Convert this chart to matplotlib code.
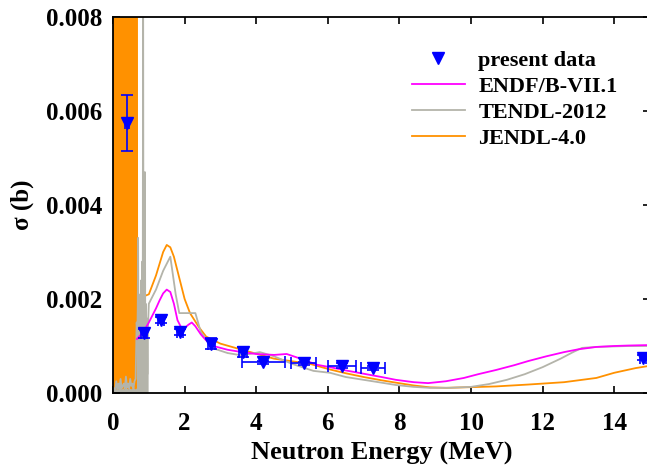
import numpy as np
import matplotlib
matplotlib.use("Agg")
import matplotlib.pyplot as plt
from matplotlib.lines import Line2D

plt.rcParams['font.family'] = ['Liberation Serif', 'DejaVu Serif']
plt.rcParams['font.weight'] = 'bold'

# present data (MeV, barn)
exp_e = [0.39, 0.87, 1.34, 1.87, 2.74, 3.63, 4.2, 5.33, 6.4, 7.27, 14.8]
exp_xs = [0.00575, 0.00127, 0.00155, 0.0013, 0.00105, 0.00087, 0.00065, 0.00063, 0.00058, 0.00053, 0.00075]
exp_dxs = [0.0006, 0.0001, 0.00007, 0.00007, 0.00012, 0.0001, 0.00004, 0.00004, 0.00005, 0.00004, 0.00005]
exp_de = [0.05, 0.08, 0.08, 0.08, 0.1, 0.1, 0.6, 0.35, 0.4, 0.33, 0.08]

# ENDF/B-VII.1
endf_e = [0.67, 0.85, 1.0, 1.2, 1.3, 1.4, 1.5, 1.6, 1.7, 1.8, 1.9, 2.0, 2.1, 2.2, 2.3, 2.45, 2.6,
          2.8, 3.2, 3.6, 4.0, 4.5, 4.85, 5.2, 5.7, 6.06, 6.5, 7.0, 7.5, 7.9, 8.4, 8.8, 9.3, 9.8,
          10.2, 10.7, 11.2, 11.6, 12.1, 12.6, 13.0, 13.5, 14.0, 14.4, 15.0]
endf_xs = [0.00115, 0.0013, 0.0015, 0.0018, 0.00197, 0.00212, 0.0022, 0.00215, 0.0019, 0.00155,
           0.0014, 0.00138, 0.00145, 0.0015, 0.00142, 0.00125, 0.00112, 0.001, 0.00092, 0.00087,
           0.00083, 0.00081, 0.00083, 0.00074, 0.0006, 0.00055, 0.00048, 0.00041, 0.00034,
           0.00028, 0.00023, 0.00021, 0.00025, 0.00032, 0.0004, 0.00049, 0.00059, 0.00068,
           0.00078, 0.00087, 0.00093, 0.00098, 0.001, 0.00101, 0.00102]

# TENDL-2012, resonance part and smooth part
tendl_e = [0.0, 0.03, 0.06, 0.09, 0.12, 0.15, 0.18, 0.21, 0.24, 0.27, 0.30, 0.33, 0.36, 0.39,
           0.42, 0.45, 0.48, 0.51, 0.54, 0.57, 0.60, 0.63, 0.66, 0.68, 0.69, 0.70, 0.71, 0.72,
           0.73, 0.74, 0.75, 0.76, 0.77, 0.78, 0.79, 0.80, 0.81, 0.82, 0.83, 0.84, 0.85, 0.86,
           0.87, 0.88, 0.89, 0.90, 0.91, 0.92, 0.93, 0.94, 0.95, 0.96, 0.97, 0.98,
           1.0, 1.2, 1.4, 1.6, 1.75, 1.85, 2.3, 2.45, 2.8, 3.2, 3.6, 4.1, 4.5, 5.0, 5.6, 6.06,
           6.5, 7.0, 7.5, 7.9, 8.4, 8.85, 9.4, 10.0, 10.5, 11.0, 11.5, 12.0, 12.5, 12.85, 13.1,
           13.5, 14.4, 15.0]
tendl_xs = [0.0, 0.0001, 0.00005, 0.00025, 0.0001, 0.0002, 0.00008, 0.0003, 0.0001, 0.00015,
            0.0002, 0.0001, 0.00035, 0.00012, 0.0002, 0.0001, 0.0003, 0.00015, 0.0002, 0.0001,
            0.00025, 0.0003, 0.0015, 0.0013, 0.0018, 0.0033, 0.0014, 0.0016, 0.0013, 0.0019,
            0.0015, 0.0021, 0.0014, 0.0017, 0.0024, 0.0015, 0.0017, 0.0028, 0.0015, 0.0095,
            0.0016, 0.0021, 0.0014, 0.0018, 0.0047, 0.0014, 0.0019, 0.0013, 0.0016, 0.0012,
            0.0013, 0.0004, 0.0011, 0.0015,
            0.0019, 0.0022, 0.0026, 0.0029, 0.0021, 0.0017, 0.0017, 0.0013, 0.00095, 0.00085,
            0.0008, 0.00087, 0.00078, 0.00062, 0.00047, 0.00043, 0.00034, 0.00028, 0.00022,
            0.00017, 0.00013, 0.00011, 0.00011, 0.00013, 0.00019, 0.00028, 0.0004, 0.00055,
            0.00073, 0.00087, 0.00096, 0.00098, 0.001, 0.001]
n_tendl_res = 54

# JENDL-4.0, resonance part (goes off scale) and smooth part
jendl_res_e = [0.0, 0.01, 0.03, 0.04, 0.06, 0.07, 0.09, 0.10, 0.12, 0.14, 0.15, 0.17, 0.19,
               0.20, 0.22, 0.24, 0.25, 0.27, 0.29, 0.31, 0.32, 0.34, 0.36, 0.38, 0.40, 0.41,
               0.43, 0.45, 0.47, 0.49, 0.51, 0.53, 0.55, 0.57, 0.59, 0.61, 0.63, 0.65, 0.67]
jendl_res_xs = [0.0002, 0.03, 0.0001, 0.05, 0.0003, 0.04, 0.0001, 0.06, 0.0002, 0.03, 0.0001,
                0.05, 0.0003, 0.04, 0.0002, 0.07, 0.0001, 0.03, 0.0002, 0.05, 0.0001, 0.04,
                0.0003, 0.06, 0.0002, 0.03, 0.0001, 0.05, 0.0002, 0.04, 0.0001, 0.06, 0.0003,
                0.03, 0.0002, 0.05, 0.0001, 0.04, 0.002]
jendl_e = [0.67, 1.0, 1.2, 1.4, 1.5, 1.6, 1.7, 1.8, 2.0, 2.15, 2.4, 2.6, 3.0, 3.6, 4.5, 5.5,
           6.06, 6.5, 7.0, 7.5, 7.9, 8.4, 8.85, 9.3, 9.8, 10.7, 11.6, 12.6, 13.5, 14.0, 14.6, 15.0]
jendl_xs = [0.002, 0.0021, 0.0025, 0.003, 0.00315, 0.0031, 0.0029, 0.0026, 0.002, 0.0017,
            0.0014, 0.0012, 0.00105, 0.00092, 0.00073, 0.00062, 0.0005, 0.00042, 0.00034,
            0.00027, 0.00022, 0.00016, 0.00012, 0.00011, 0.00012, 0.00014, 0.00018, 0.00023,
            0.00032, 0.00043, 0.00053, 0.00058]

c_orange = '#ff9100'
c_gray = '#b4b4aa'
c_mag = '#ff00ff'
c_blue = '#0000ff'

fig = plt.figure(figsize=(6.47, 4.74), dpi=100)
ax = fig.add_axes([0.1747, 0.1709, 0.830, 0.7932])

ax.fill_between(jendl_res_e, jendl_res_xs, color=c_orange, lw=0)
ax.plot(jendl_res_e, jendl_res_xs, color=c_orange, lw=1.5)
ax.plot(jendl_e, jendl_xs, color=c_orange, lw=1.3)
ax.fill_between(tendl_e[:n_tendl_res], tendl_xs[:n_tendl_res], color=c_gray, lw=0)
ax.plot(tendl_e, tendl_xs, color=c_gray, lw=1.3)
ax.plot(endf_e, endf_xs, color=c_mag, lw=1.3)
ax.errorbar(exp_e, exp_xs, yerr=exp_dxs, xerr=exp_de, fmt='v', color=c_blue, ms=8.5,
            elinewidth=1.2, capsize=4, capthick=1.2, zorder=5)

ax.set_xlim(0, 15)
ax.set_ylim(0, 0.008)
ax.set_xticks([0, 2, 4, 6, 8, 10, 12, 14])
ax.set_yticks([0.0, 0.002, 0.004, 0.006, 0.008])
ax.yaxis.set_major_formatter(matplotlib.ticker.FormatStrFormatter('%.3f'))
ax.tick_params(direction='in', top=True, right=True, length=5, width=1.2, labelsize=18)
ax.tick_params(axis='x', pad=14)
ax.tick_params(axis='y', pad=8)
for s in ax.spines.values():
    s.set_linewidth(1.3)

ax.set_xlabel('Neutron Energy (MeV)', fontsize=19, fontweight='bold', labelpad=5)
ax.set_ylabel('σ (b)', fontsize=18, fontweight='bold', labelpad=8)

handles = [Line2D([], [], ls='none', marker='v', color=c_blue, ms=8.5),
           Line2D([], [], color=c_mag, lw=1.3),
           Line2D([], [], color=c_gray, lw=1.3),
           Line2D([], [], color=c_orange, lw=1.3)]
labels = ['present data', 'ENDF/B-VII.1', 'TENDL-2012', 'JENDL-4.0']
ax.legend(handles, labels, loc='upper left', bbox_to_anchor=(0.519, 0.965), frameon=False,
          handlelength=2.4, handletextpad=0.6, labelspacing=0.25,
          prop={'weight': 'bold', 'size': 16})

fig.savefig('out.png', dpi=100)
